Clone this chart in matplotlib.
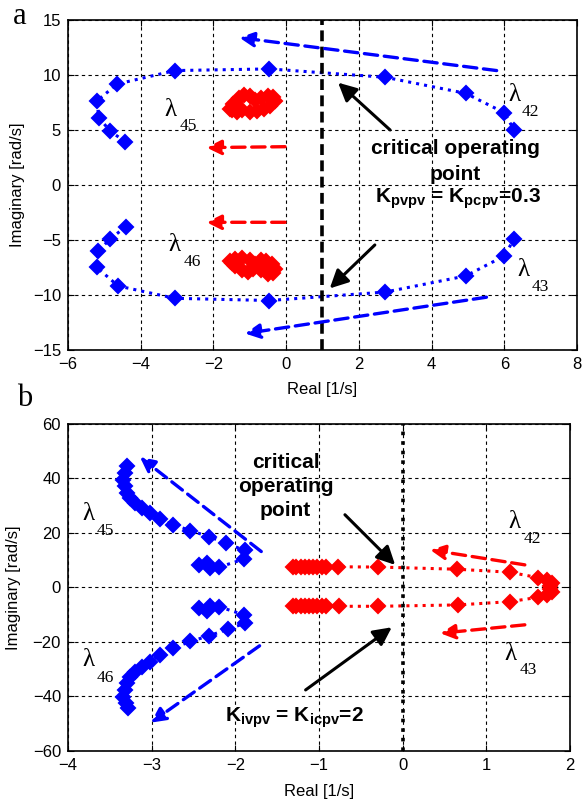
import matplotlib
matplotlib.use('Agg')
import matplotlib.pyplot as plt
from matplotlib import rcParams

rcParams['font.family'] = 'Liberation Sans'
rcParams['font.size'] = 11
rcParams['mathtext.fontset'] = 'custom'
rcParams['mathtext.rm'] = 'Liberation Sans'
rcParams['mathtext.bf'] = 'Liberation Sans:bold'
rcParams['mathtext.it'] = 'Liberation Sans:italic'

#%% data - panel a (Kpvpv = Kpcpv sweep)
a_l45_re = [-4.43, -4.84, -5.15, -5.21, -4.64, -3.06, -0.46, 2.73, 4.94, 6.00, 6.27]
a_l45_im = [3.94, 4.90, 6.12, 7.64, 9.18, 10.40, 10.55, 9.79, 8.33, 6.57, 5.00]
a_l46_re = [-4.41, -4.84, -5.17, -5.21, -4.62, -3.06, -0.46, 2.73, 4.94, 6.00, 6.27]
a_l46_im = [-3.79, -4.91, -6.00, -7.48, -9.18, -10.30, -10.50, -9.73, -8.27, -6.45, -4.91]

a_red_up_re = [-1.55, -1.45, -1.30, -1.15, -1.00, -0.85, -0.70, -0.50, -0.35, -0.30,
               -0.45, -0.60, -0.80, -1.00, -1.20, -1.35, -1.50]
a_red_up_im = [6.9, 7.4, 7.9, 8.2, 8.1, 7.7, 7.9, 8.1, 8.0, 7.6,
               7.2, 6.9, 6.7, 6.6, 6.8, 6.6, 6.8]
a_red_dn_re = [-1.55, -1.40, -1.20, -1.00, -0.85, -0.70, -0.55, -0.40, -0.30, -0.35,
               -0.50, -0.70, -0.90, -1.05, -1.20, -1.40, -1.50]
a_red_dn_im = [-6.9, -6.7, -6.6, -6.8, -7.2, -6.8, -6.9, -7.2, -7.6, -8.0,
               -8.1, -7.7, -7.6, -7.9, -7.7, -7.4, -7.1]

#%% data - panel b (Kivpv = Kicpv sweep)
b_l45_re = [-2.44, -2.34, -2.30, -2.20, -1.90, -1.89, -2.11, -2.32, -2.54, -2.74, -2.90,
            -3.02, -3.12, -3.20, -3.26, -3.30, -3.32, -3.34, -3.32, -3.29]
b_l45_im = [8.3, 9.1, 7.1, 7.4, 10.4, 13.6, 16.3, 18.7, 20.9, 23.0, 25.1,
            27.5, 29.1, 31.0, 32.8, 34.6, 37.1, 39.5, 42.0, 44.7]
b_l46_re = [-2.44, -2.34, -2.30, -2.20, -1.90, -1.88, -2.09, -2.32, -2.54, -2.74, -2.90,
            -3.02, -3.12, -3.20, -3.26, -3.30, -3.32, -3.34, -3.31, -3.28]
b_l46_im = [-7.6, -8.8, -6.7, -7.0, -10.0, -13.1, -15.3, -17.8, -19.8, -22.3, -24.7,
            -27.2, -29.0, -30.9, -32.9, -35.1, -37.6, -40.1, -42.5, -44.3]

b_l42_re = [-1.31, -1.27, -1.22, -1.17, -1.12, -1.07, -1.02, -0.97, -0.92, -0.77,
            -0.29, 0.65, 1.28, 1.62, 1.72, 1.78, 1.76]
b_l42_im = [7.6, 7.6, 7.6, 7.6, 7.6, 7.6, 7.6, 7.6, 7.6, 7.6,
            7.5, 6.7, 5.6, 3.6, 2.6, 1.5, 0.5]
b_l43_re = [-1.31, -1.27, -1.22, -1.17, -1.12, -1.07, -1.02, -0.97, -0.92, -0.76,
            -0.29, 0.66, 1.28, 1.62, 1.72, 1.78, 1.76]
b_l43_im = [-6.9, -6.9, -6.9, -6.9, -6.9, -6.9, -6.9, -6.9, -6.9, -6.9,
            -6.9, -6.4, -5.2, -3.6, -2.6, -1.5, -0.5]

#%%
fig = plt.figure(figsize=(5.82, 8.05), dpi=100)
ax1 = fig.add_axes([0.1168, 0.5652, 0.8746, 0.4100])
ax2 = fig.add_axes([0.1168, 0.0671, 0.8626, 0.4062])

mk = dict(marker='D', ms=7, mew=1.5)
dot = dict(linestyle=':', lw=2.2)


def dashed_arrow(ax, x0, y0, x1, y1, color):
    ax.annotate('', xy=(x1, y1), xytext=(x0, y0),
                arrowprops=dict(arrowstyle='-|>,head_length=0.8,head_width=0.4',
                                color=color, lw=2.4, linestyle=(0, (4, 2)),
                                shrinkA=0, shrinkB=0))


def black_arrow(ax, x0, y0, x1, y1):
    ax.annotate('', xy=(x1, y1), xytext=(x0, y0),
                arrowprops=dict(arrowstyle='-|>,head_length=1.0,head_width=0.5',
                                color='k', lw=2.2, shrinkA=0, shrinkB=0))


def lam(ax, x, y, xs, ys, sub):
    ax.text(x, y, 'λ', family='Liberation Serif', fontsize=18, ha='center', va='center')
    ax.text(xs, ys, sub, family='Liberation Serif', fontsize=12.5, ha='center', va='center')


def style(ax, xlim, ylim, xt, yt, ylab_x, xlab_y):
    ax.set_xlim(xlim)
    ax.set_ylim(ylim)
    ax.set_xticks(xt)
    ax.set_yticks(yt)
    ax.grid(True, color='k', linestyle=(0, (3, 3)), lw=0.8)
    ax.set_axisbelow(True)
    ax.tick_params(direction='in', top=True, right=True, length=4, labelsize=12, pad=5)
    for s in ax.spines.values():
        s.set_linewidth(1.2)
    ax.set_xlabel('Real [1/s]', fontsize=12)
    ax.set_ylabel('Imaginary [rad/s]', fontsize=12)
    ax.yaxis.set_label_coords(ylab_x, 0.5)
    ax.xaxis.set_label_coords(0.5, xlab_y)
    ax.xaxis.label.set_va('center')
    ax.yaxis.label.set_va('center')


#%% panel a
ax1.plot(a_l45_re, a_l45_im, color='blue', **dot, **mk)
ax1.plot(a_l46_re, a_l46_im, color='blue', **dot, **mk)
ax1.plot(a_red_up_re, a_red_up_im, color='red', **dot, **mk)
ax1.plot(a_red_dn_re, a_red_dn_im, color='red', **dot, **mk)
ax1.axvline(1, color='k', lw=2.6, linestyle=(0, (3, 1.5)))

dashed_arrow(ax1, 5.79, 10.4, -1.29, 13.4, 'blue')
dashed_arrow(ax1, 5.51, -10.2, -1.13, -13.5, 'blue')
dashed_arrow(ax1, -0.03, 3.48, -2.19, 3.40, 'red')
dashed_arrow(ax1, -0.03, -3.39, -2.19, -3.39, 'red')
black_arrow(ax1, 2.86, 5.0, 1.43, 9.3)
black_arrow(ax1, 2.44, -5.45, 1.20, -9.4)

ax1.text(4.66, 2.14, 'critical operating\npoint', fontsize=15, fontweight='bold',
         ha='center', va='center', multialignment='center', linespacing=1.45)
ax1.text(4.73, -1.6, r'$\mathbf{K_{pvpv}}$ = $\mathbf{K_{pcpv}}$=0.3', fontsize=15,
         fontweight='bold', ha='center', va='baseline')

lam(ax1, -3.17, 6.82, -2.69, 5.36, '45')
lam(ax1, 6.28, 8.18, 6.71, 6.64, '42')
lam(ax1, -3.06, -5.50, -2.59, -7.00, '46')
lam(ax1, 6.54, -7.73, 6.99, -9.27, '43')

style(ax1, (-6, 8), (-15, 15), range(-6, 9, 2), range(-15, 16, 5), -0.100, -0.121)

#%% panel b
ax2.plot(b_l45_re, b_l45_im, color='blue', **dot, **mk)
ax2.plot(b_l46_re, b_l46_im, color='blue', **dot, **mk)
ax2.plot(b_l42_re, b_l42_im, color='red', **dot, **mk)
ax2.plot(b_l43_re, b_l43_im, color='red', **dot, **mk)
ax2.axvline(0, color='k', lw=2.6, linestyle=':')

dashed_arrow(ax2, -1.69, 13.2, -3.14, 47.9, 'blue')
dashed_arrow(ax2, -1.71, -21.4, -3.01, -49.6, 'blue')
dashed_arrow(ax2, 1.46, 8.3, 0.33, 13.8, 'red')
dashed_arrow(ax2, 1.46, -13.7, 0.45, -16.8, 'red')
black_arrow(ax2, -0.69, 26.7, -0.09, 8.3)
black_arrow(ax2, -1.16, -37.6, -0.13, -14.6)

ax2.text(-1.40, 37.1, 'critical\noperating\npoint', fontsize=15, fontweight='bold',
         ha='center', va='center', multialignment='center', linespacing=1.35)
ax2.text(-1.29, -49.2, r'$\mathbf{K_{ivpv}}$ = $\mathbf{K_{icpv}}$=2', fontsize=15,
         fontweight='bold', ha='center', va='baseline')

lam(ax2, -3.76, 27.1, -3.55, 20.6, '45')
lam(ax2, -3.76, -26.6, -3.55, -33.2, '46')
lam(ax2, 1.33, 23.9, 1.55, 17.7, '42')
lam(ax2, 1.29, -24.3, 1.50, -30.4, '43')

style(ax2, (-4, 2), (-60, 60), range(-4, 3, 1), range(-60, 61, 20), -0.109, -0.1246)

#%% panel letters
fig.text(20 / 582, 1 - 17 / 805, 'a', family='Liberation Serif', fontsize=22, ha='center', va='center')
fig.text(25 / 582, 1 - 398 / 805, 'b', family='Liberation Serif', fontsize=22, ha='center', va='center')

fig.savefig('out.png', dpi=100)
